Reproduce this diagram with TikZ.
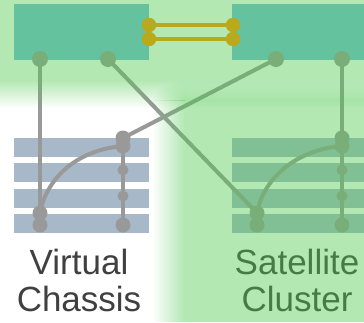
\documentclass[tikz,border=0pt]{standalone}
\usepackage{fontspec}
\setmainfont{Liberation Sans}
\usetikzlibrary{fadings}
\definecolor{boxblue}{RGB}{119,188,221}
\definecolor{barblue}{RGB}{167,185,201}
\definecolor{linegrey}{RGB}{153,153,153}
\definecolor{txtgrey}{RGB}{64,64,64}
\definecolor{tint}{RGB}{79,202,79}
\definecolor{olive}{RGB}{185,169,28}
\tikzfading[name=fadesouth, top color=transparent!0, bottom color=transparent!100]
\tikzfading[name=fadenorth, top color=transparent!100, bottom color=transparent!0]
\tikzfading[name=fadewest, left color=transparent!100, right color=transparent!0]
\tikzfading[name=fadecorner, inner color=transparent!0, outer color=transparent!100]
\tikzset{
  topbox/.style={fill=boxblue, draw=none, inner sep=0pt, minimum height=56pt},
  bar/.style={fill=barblue, draw=none, inner sep=0pt, minimum height=19.5pt},
  conn/.style={draw=linegrey, line width=4pt},
  bigdot/.style={circle, fill=linegrey, inner sep=0pt, minimum size=16pt},
  middot/.style={circle, fill=linegrey, inner sep=0pt, minimum size=15pt},
  smalldot/.style={circle, fill=linegrey, inner sep=0pt, minimum size=11pt},
  ydot/.style={circle, fill=olive, inner sep=0pt, minimum size=14.5pt},
  yline/.style={draw=olive, line width=4pt},
  lbl/.style={font=\fontsize{35}{37}\selectfont, align=center, inner sep=0pt, anchor=north, text=txtgrey},
  tintfill/.style={fill=tint, fill opacity=0.43, draw=none}
}
\begin{document}
\begin{tikzpicture}[x=1pt,y=-1pt]
\useasboundingbox (0,0) rectangle (364,322);
\fill[white] (0,0) rectangle (364,322);
% top switches
\node[topbox, minimum width=135pt] (boxL) at (81.5,32) {};
\node[topbox, minimum width=132pt] (boxR) at (298,32) {};
% stacks
\foreach \n/\y in {1/147.5,2/172.5,3/198.5,4/223.5}{
  \node[bar, minimum width=135pt] (barL\n) at (81.5,\y) {};
  \node[bar, minimum width=132pt] (barR\n) at (298,\y) {};
}
% dot positions
\coordinate (dL1) at (40,59);
\coordinate (dL2) at (108,59);
\coordinate (dR1) at (276,59);
\coordinate (dR2) at (342,59);
\coordinate (vA1) at (40,213);
\coordinate (vA2) at (40,225);
\coordinate (vB1) at (123,138);
\coordinate (vB2) at (123,146);
\coordinate (vB3) at (123,170);
\coordinate (vB4) at (123,196);
\coordinate (vB5) at (123,225);
\coordinate (sA1) at (257,213);
\coordinate (sA2) at (257,225);
\coordinate (sB1) at (342,138);
\coordinate (sB2) at (342,146);
\coordinate (sB3) at (342,170);
\coordinate (sB4) at (342,196);
\coordinate (sB5) at (342,225);
% connectors
\draw[conn] (dL1) -- (vA2);
\draw[conn] (vB1) -- (vB5);
\draw[conn] (dR2) -- (sB5);
\draw[conn] (dL2) -- (sA1);
\draw[conn] (dR1) -- (vB1);
\draw[conn] (vA1) .. controls +(6,-33) and +(-48,4) .. (vB2);
\draw[conn] (sA1) .. controls +(6,-33) and +(-48,4) .. (sB2);
% dots
\foreach \c in {dL1,dL2,dR1,dR2}{\node[bigdot] (n\c) at (\c) {};}
\foreach \c in {vA1,vA2,vB1,vB2,vB5,sA1,sA2,sB1,sB2,sB5}{\node[middot] (n\c) at (\c) {};}
\foreach \c in {vB3,vB4,sB3,sB4}{\node[smalldot] (n\c) at (\c) {};}
% labels
\node[lbl] (vc) at (79,249) {Virtual\\Chassis};
\node[lbl] (sc) at (297,249) {Satellite\\Cluster};
% green tint overlays
\fill[tintfill] (0,0) rectangle (364,80);
\fill[tintfill, path fading=fadesouth] (0,80) rectangle (364,108);
\fill[tintfill] (185,100) rectangle (364,322);
\fill[tintfill, path fading=fadewest] (152,100) rectangle (185,322);
\fill[tintfill, path fading=fadenorth] (185,80) rectangle (364,100);
\begin{scope}
  \clip (152,80) rectangle (185,100);
  \fill[tintfill, path fading=fadecorner] (152,80) rectangle (218,120);
\end{scope}
% virtual chassis links
\node[ydot] (yL1) at (149,25) {};
\node[ydot] (yL2) at (149,39) {};
\node[ydot] (yR1) at (233,25) {};
\node[ydot] (yR2) at (233,39) {};
\draw[yline] (yL1.center) -- (yR1.center);
\draw[yline] (yL2.center) -- (yR2.center);
\end{tikzpicture}
\end{document}
